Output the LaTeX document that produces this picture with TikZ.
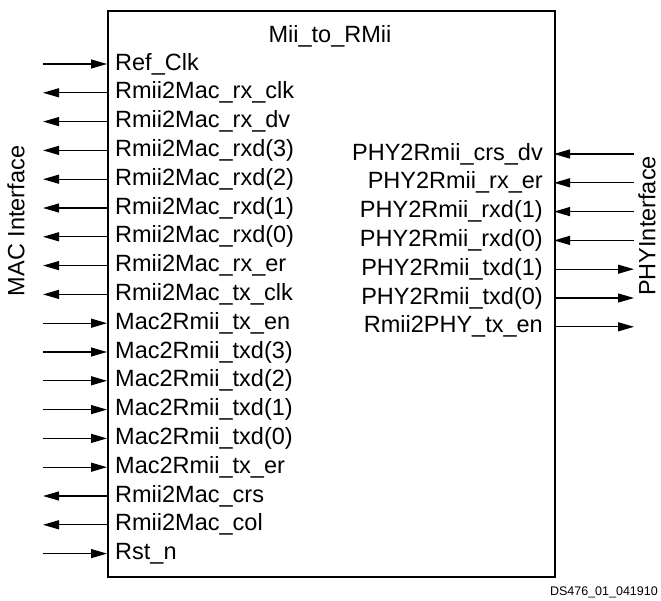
\documentclass[tikz,border=0pt]{standalone}
\usepackage{fontspec}
\setmainfont{Liberation Sans}
\usetikzlibrary{arrows.meta}

\tikzset{
  pinin/.style={line width=1.2pt,-{Triangle[length=16pt,width=9pt]}},
  pinout/.style={line width=1.2pt,{Triangle[length=16pt,width=9pt]}-},
  sig/.style={inner sep=0pt,font=\fontsize{23.5}{28}\selectfont},
}

\begin{document}
\begin{tikzpicture}[x=1pt,y=-1pt]

    % main dimensions
    \def\xL{107}      % left side of the block
    \def\xR{554}      % right side of the block
    \def\yT{10}       % top
    \def\yB{576}      % bottom
    \def\dy{28.8}     % pin pitch

    \useasboundingbox (0,0) rectangle (661,601);

    % block
    \node[draw,line width=2.4pt,anchor=north west,
          minimum width=447pt,minimum height=566pt] (blk) at (\xL,\yT) {};
    \node[sig] (title) at (330,36) {Mii\_to\_RMii};

    % MAC side pins
    \foreach \lab/\dir [count=\i from 0] in {
        Ref\_Clk/in, Rmii2Mac\_rx\_clk/out, Rmii2Mac\_rx\_dv/out,
        Rmii2Mac\_rxd(3)/out, Rmii2Mac\_rxd(2)/out, Rmii2Mac\_rxd(1)/out,
        Rmii2Mac\_rxd(0)/out, Rmii2Mac\_rx\_er/out, Rmii2Mac\_tx\_clk/out,
        Mac2Rmii\_tx\_en/in, Mac2Rmii\_txd(3)/in, Mac2Rmii\_txd(2)/in,
        Mac2Rmii\_txd(1)/in, Mac2Rmii\_txd(0)/in, Mac2Rmii\_tx\_er/in,
        Rmii2Mac\_crs/out, Rmii2Mac\_col/out, Rst\_n/in}{
      \coordinate (lpin\i) at (\xL,{64+\dy*\i});
      \coordinate (lext\i) at (43,{64+\dy*\i});
      \node[sig,anchor=west] (llab\i) at ([xshift=8pt]lpin\i) {\lab};
      \draw[pin\dir] (lext\i) -- (lpin\i);
    }

    % PHY side pins
    \foreach \lab/\dir [count=\i from 0] in {
        PHY2Rmii\_crs\_dv/in, PHY2Rmii\_rx\_er/in, PHY2Rmii\_rxd(1)/in,
        PHY2Rmii\_rxd(0)/in, PHY2Rmii\_txd(1)/out, PHY2Rmii\_txd(0)/out,
        Rmii2PHY\_tx\_en/out}{
      \coordinate (rpin\i) at (\xR,{154+\dy*\i});
      \coordinate (rext\i) at (634,{154+\dy*\i});
      \node[sig,anchor=east] (rlab\i) at ([xshift=-11pt]rpin\i) {\lab};
      \draw[pin\dir] (rext\i) -- (rpin\i);
    }

    % interface names
    \node[sig,rotate=90] (macif) at (16,221) {MAC Interface};
    \node[sig,rotate=90] (phyif) at (647,226) {PHYInterface};

    % figure id
    \node[inner sep=0pt,anchor=base east,font=\fontsize{12.5}{14}\selectfont]
        (figid) at (658,595) {DS476\_01\_041910};

\end{tikzpicture}
\end{document}
